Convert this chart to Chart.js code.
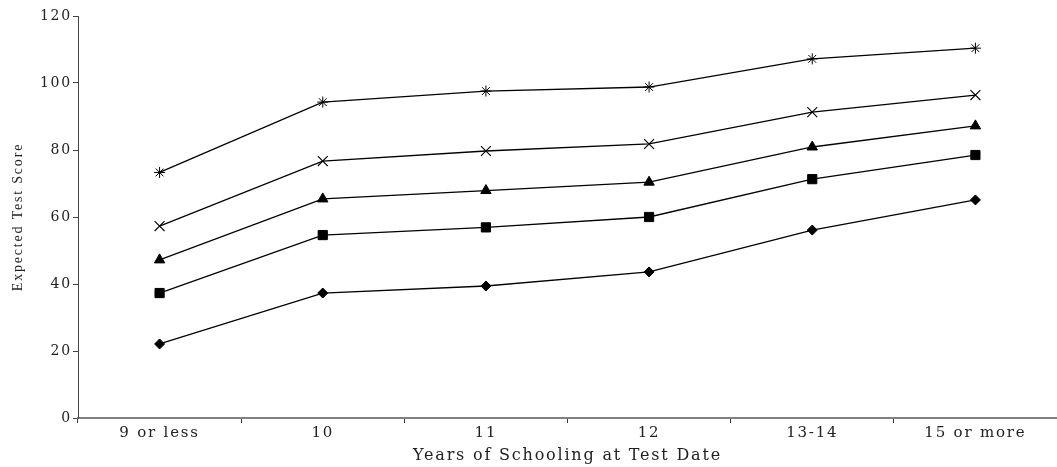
<!DOCTYPE html>
<html>
<head>
<meta charset="utf-8">
<script src="https://cdn.jsdelivr.net/npm/chart.js@4/dist/chart.umd.min.js"></script>
<style>
html,body{margin:0;padding:0;background:#fff;overflow:hidden;}
#wrap{width:1057px;height:467px;position:relative;overflow:hidden;}
canvas{display:block;}
</style>
</head>
<body>
<div id="wrap"><canvas id="c"></canvas></div>
<script>
const categories = ["9 or less", "10", "11", "12", "13-14", "15 or more"];
const seriesDiamond = [22.1, 37.3, 39.4, 43.6, 56.1, 65.1];
const seriesSquare = [37.3, 54.6, 56.9, 60.0, 71.3, 78.5];
const seriesTriangle = [47.2, 65.4, 67.9, 70.4, 80.9, 87.2];
const seriesCross = [57.3, 76.7, 79.7, 81.8, 91.3, 96.4];
const seriesStar = [73.3, 94.3, 97.6, 98.8, 107.2, 110.4];
const yTicks = [0, 20, 40, 60, 80, 100, 120];

const fam = "'DejaVu Serif', 'Liberation Serif', serif";
function ds(data, style, radius, bw) {
  return {data: data, borderColor: '#000', backgroundColor: '#000', borderWidth: 1.3,
    pointStyle: style, pointRadius: radius, pointBorderWidth: bw, pointBorderColor: '#000',
    pointBackgroundColor: '#000', tension: 0, fill: false};
}
const spacing = {
  id: 'spacing',
  beforeUpdate(chart) { chart.ctx.letterSpacing = '1.8px'; },
  beforeDraw(chart) { chart.ctx.letterSpacing = '1.8px'; }
};
new Chart(document.getElementById('c'), {
  type: 'line',
  plugins: [spacing],
  data: {
    labels: categories,
    datasets: [
      ds(seriesDiamond, 'rectRot', 5, 1),
      ds(seriesSquare, 'rect', 6.5, 1),
      ds(seriesTriangle, 'triangle', 6, 1),
      ds(seriesCross, 'crossRot', 7, 1.1),
      ds(seriesStar, 'star', 5.5, 1)
    ]
  },
  options: {
    responsive: true, maintainAspectRatio: false, animation: false,
    layout: {autoPadding: false, padding: {top: 16, right: -2, left: 0, bottom: 0}},
    plugins: {legend: {display: false}, tooltip: {enabled: false}},
    scales: {
      x: {
        offset: true,
        grid: {offset: true, drawOnChartArea: false, drawTicks: true, tickLength: 5, color: '#333', lineWidth: 1},
        border: {display: true, color: '#808080', width: 2},
        ticks: {font: {family: fam, size: 15}, color: '#222', padding: 1, maxRotation: 0},
        title: {display: true, text: 'Years of Schooling at Test Date', font: {family: fam, size: 16}, color: '#222', padding: {top: 0, bottom: 2}},
        afterFit: s => { s.height = 49; s.paddingRight = 0; s.paddingLeft = 0; }
      },
      y: {
        min: 0, max: 120,
        afterBuildTicks: s => { s.ticks = yTicks.map(v => ({value: v})); },
        grid: {drawOnChartArea: false, drawTicks: true, tickLength: 5, color: '#444'},
        border: {display: true, color: '#444', width: 1},
        ticks: {font: {family: fam, size: 14}, color: '#222', padding: 1},
        title: {display: true, text: 'Expected Test Score', font: {family: "'Liberation Serif', serif", size: 14}, color: '#222', padding: {top: 10, bottom: 4}},
        afterFit: s => { s.width = 78; }
      }
    }
  }
});
</script>
</body>
</html>
